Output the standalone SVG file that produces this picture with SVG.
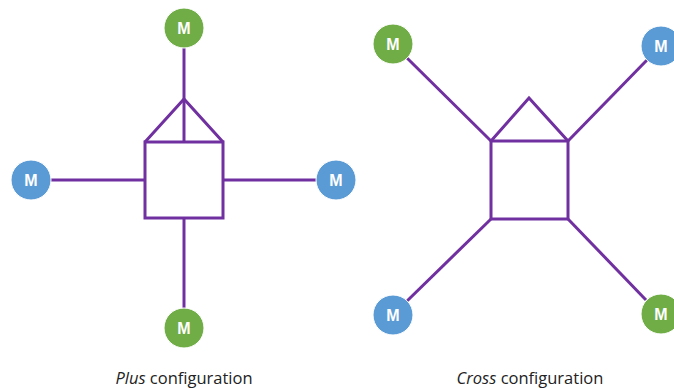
<svg xmlns="http://www.w3.org/2000/svg" width="674" height="388" viewBox="0 0 674 388">
  <style>
    .wire { stroke: #7030A0; stroke-width: 3; fill: none; stroke-linejoin: miter; }
    .m { stroke: #ffffff; stroke-width: 1; }
    .green { fill: #70AD47; }
    .blue { fill: #5B9BD5; }
    .ml { fill: #ffffff; font-family: "Liberation Sans", Arial, sans-serif; font-weight: bold; font-size: 16px; text-anchor: middle; dominant-baseline: central; }
    .cap { fill: #222222; font-family: "Open Sans", "Liberation Sans", sans-serif; font-size: 16.5px; text-anchor: middle; }
  </style>
  <rect width="674" height="388" fill="#ffffff"/>

  <!-- connectors -->
  <g id="connectors">
    <!-- plus layout -->
    <line class="wire" x1="184" y1="48" x2="184" y2="142"/>
    <polyline class="wire" points="145,142 184,99 223,142"/>
    <line class="wire" x1="50" y1="180" x2="145" y2="180"/>
    <line class="wire" x1="223" y1="180" x2="316" y2="180"/>
    <line class="wire" x1="184" y1="218" x2="184" y2="308"/>
    <!-- cross layout -->
    <polyline class="wire" points="491,141 529,98 568,141"/>
    <line class="wire" x1="407" y1="58" x2="491" y2="141"/>
    <line class="wire" x1="568" y1="141" x2="647" y2="60"/>
    <line class="wire" x1="491" y1="219" x2="407" y2="301"/>
    <line class="wire" x1="568" y1="219" x2="646" y2="300"/>
  </g>

  <!-- frames -->
  <g id="plus-frame">
    <rect class="wire" x="145" y="142" width="78" height="76"/>
  </g>
  <g id="cross-frame">
    <rect class="wire" x="491" y="141" width="77" height="78"/>
  </g>

  <!-- motors, plus layout -->
  <g id="plus-top"><circle class="m green" cx="184" cy="28" r="20"/><text class="ml" x="184" y="28">M</text></g>
  <g id="plus-left"><circle class="m blue" cx="31" cy="180" r="20"/><text class="ml" x="31" y="180">M</text></g>
  <g id="plus-right"><circle class="m blue" cx="336" cy="180" r="20"/><text class="ml" x="336" y="180">M</text></g>
  <g id="plus-bottom"><circle class="m green" cx="184" cy="328" r="20"/><text class="ml" x="184" y="328">M</text></g>

  <!-- motors, cross layout -->
  <g id="cross-tl"><circle class="m green" cx="393" cy="44" r="20"/><text class="ml" x="393" y="44">M</text></g>
  <g id="cross-tr"><circle class="m blue" cx="661" cy="46" r="20"/><text class="ml" x="661" y="46">M</text></g>
  <g id="cross-bl"><circle class="m blue" cx="393" cy="315" r="20"/><text class="ml" x="393" y="315">M</text></g>
  <g id="cross-br"><circle class="m green" cx="661" cy="314" r="20"/><text class="ml" x="661" y="314">M</text></g>

  <!-- captions -->
  <g id="captions">
    <text class="cap" x="184" y="384"><tspan font-style="italic">Plus</tspan> configuration</text>
    <text class="cap" x="530" y="384"><tspan font-style="italic">Cross</tspan> configuration</text>
  </g>
</svg>
